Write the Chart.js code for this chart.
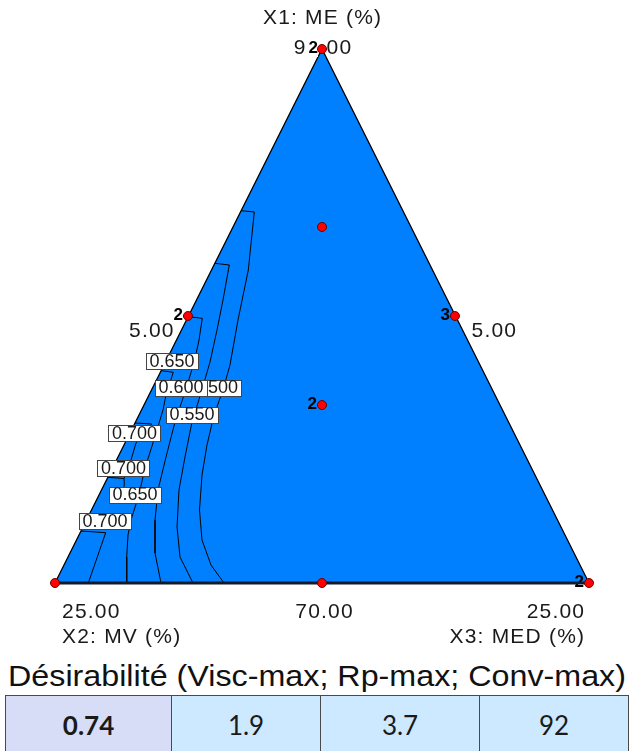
<!DOCTYPE html>
<html>
<head>
<meta charset="utf-8">
<script src="https://cdn.jsdelivr.net/npm/chart.js@4.4.0/dist/chart.umd.min.js"></script>
<style>
  html, body { margin: 0; padding: 0; background: #fff; }
  body { width: 629px; height: 751px; position: relative; overflow: hidden; font-family: "Liberation Sans", Arial, sans-serif; }
  #plot { position: absolute; left: 0; top: 0; }
  #title { position: absolute; left: 8px; top: 659px; height: 34px; line-height: 34px; font-size: 30px; color: #111; white-space: nowrap; }
  #title span { display: inline-block; transform-origin: 0 50%; }
  table { position: absolute; left: 5px; top: 695px; border-collapse: collapse; font-family: Lato, "Open Sans", sans-serif; font-size: 26px; color: #1a1a1a; }
  td { border: 1px solid #4a4a4a; height: 58px; text-align: center; vertical-align: middle; padding: 0; background: #cde9ff; }
  td.first { background: #d7ddf6; font-weight: bold; }
</style>
</head>
<body>
<canvas id="plot" width="629" height="655"></canvas>
<div id="title"><span>Désirabilité (Visc-max; Rp-max; Conv-max)</span></div>
<table>
  <tr>
    <td class="first" style="width:167px">0.74</td>
    <td style="width:150px">1.9</td>
    <td style="width:160px">3.7</td>
    <td style="width:150px">92</td>
  </tr>
</table>
<script>
// plot frame: base runs 0..100 left to right, height 0..100 bottom to apex
const triX = [0, 50, 100];
const triY = [0, 100, 0];

const componentNames = ['X1: ME (%)', 'X2: MV (%)', 'X3: MED (%)'];
const vertexValues = ['90.00', '25.00', '25.00'];
const edgeValues = ['5.00', '70.00', '5.00'];

// design points and their replicate counts
const pointX = [50, 50, 24.9, 74.9, 50, 0, 50, 100];
const pointY = [100, 66.67, 50, 50, 33.33, 0, 0, 0];
const pointReps = ['2', '', '2', '3', '2', '', '', '2'];

// desirability contours
const line500X = [34.83, 37.32, 36.20, 34.27, 32.77, 31.46, 29.78, 28.46, 27.53, 27.06, 27.53, 29.21, 31.65];
const line500Y = [69.72, 69.48, 58.61, 49.25, 40.82, 36.14, 31.46, 25.84, 20.22, 13.67, 8.05, 3.37, 0];
const line550X = [29.94, 32.64, 31.46, 30.34, 29.03, 27.34, 25.66, 24.34, 23.22, 22.85, 23.41, 25.84];
const line550Y = [59.87, 59.55, 53.00, 47.38, 41.39, 35.58, 30.15, 23.60, 17.42, 10.49, 4.87, 0];
const line600X = [24.94, 27.58, 26.97, 26.03, 24.16, 22.47, 20.79, 19.29, 18.73, 18.73, 19.85];
const line600Y = [49.87, 49.57, 45.51, 41.20, 35.21, 30.15, 23.60, 17.42, 11.80, 5.62, 0];
const line650X = [19.89, 22.15, 20.79, 20.22, 19.10, 18.11, 17.04, 16.48, 16.05, 15.30, 14.23, 13.67, 13.43, 13.43];
const line650Y = [39.76, 39.46, 35.21, 32.40, 28.65, 25.47, 22.10, 19.85, 17.98, 15.17, 11.80, 8.99, 4.87, 0];
const line700aX = [14.98, 18.11, 15.17, 14.23, 12.92, 9.90];
const line700aY = [29.96, 29.78, 26.22, 23.03, 19.57, 19.79];
const line700bX = [12.92, 12.98, 12.36];
const line700bY = [19.57, 18.35, 16.10];
const line700cX = [4.87, 9.49, 6.24];
const line700cY = [9.74, 9.42, 0];

const labelText = ['0.650', '0.500', '0.600', '0.550', '0.700', '0.700', '0.650', '0.700'];
const labelX = [21.91, 30.06, 23.60, 25.66, 14.89, 12.83, 14.98, 9.36];
const labelY = [41.57, 36.61, 36.61, 31.55, 28.09, 21.54, 16.57, 11.61];

const pts = (xs, ys) => xs.map((x, i) => ({ x, y: ys[i] }));

function contour(xs, ys) {
  return { data: pts(xs, ys), borderColor: '#000', borderWidth: 1, pointRadius: 0, tension: 0, fill: false, clip: false, order: 5 };
}

function spacedText(ctx, text, x, y, align, spacing) {
  ctx.letterSpacing = spacing + 'px';
  let w = ctx.measureText(text).width - spacing;
  let sx = align === 'center' ? x - w / 2 : align === 'right' ? x - w : x;
  ctx.textAlign = 'left';
  ctx.fillText(text, sx, y);
  ctx.letterSpacing = '0px';
}

const ternaryLabels = {
  id: 'ternaryLabels',
  afterDatasetDraw(chart, args) {
    if (args.index !== 0) return;
    const ctx = chart.ctx, xs = chart.scales.x, ys = chart.scales.y;
    const T = { x: xs.getPixelForValue(50), y: ys.getPixelForValue(100) };
    const L = { x: xs.getPixelForValue(0), y: ys.getPixelForValue(0) };
    const R = { x: xs.getPixelForValue(100), y: ys.getPixelForValue(0) };
    const M = { x: xs.getPixelForValue(50), y: ys.getPixelForValue(0) };
    const EL = { x: xs.getPixelForValue(25), y: ys.getPixelForValue(50) };
    const ER = { x: xs.getPixelForValue(75), y: ys.getPixelForValue(50) };
    ctx.save();
    ctx.fillStyle = '#1a1a1a';
    ctx.font = '21px "Liberation Sans", Arial, sans-serif';
    ctx.textBaseline = 'middle';
    spacedText(ctx, componentNames[0], T.x, T.y - 31, 'center', 1.2);
    spacedText(ctx, vertexValues[0], T.x + 0.5, T.y - 1, 'center', 1.2);
    spacedText(ctx, vertexValues[1], L.x + 7, L.y + 29, 'left', 1.2);
    spacedText(ctx, componentNames[1], L.x + 7, L.y + 54, 'left', 1.2);
    spacedText(ctx, vertexValues[2], R.x - 5, R.y + 29, 'right', 1.2);
    spacedText(ctx, componentNames[2], R.x - 5, R.y + 54, 'right', 1.2);
    spacedText(ctx, edgeValues[1], M.x + 2, M.y + 29, 'center', 1.2);
    spacedText(ctx, edgeValues[0], EL.x - 15, EL.y + 15, 'right', 1.2);
    spacedText(ctx, edgeValues[2], ER.x + 16, ER.y + 15, 'left', 1.2);

    ctx.font = 'bold 17px "Liberation Sans", Arial, sans-serif';
    ctx.textAlign = 'right';
    pointReps.forEach((r, i) => {
      if (!r) return;
      const px = xs.getPixelForValue(pointX[i]), py = ys.getPixelForValue(pointY[i]);
      if (pointY[i] >= 100) {
        ctx.fillStyle = '#fff';
        ctx.fillRect(px - 17, py - 9, 13, 17);
        ctx.fillStyle = '#000';
        ctx.fillText(r, px - 4, py - 1);
        return;
      }
      ctx.fillStyle = '#000';
      ctx.fillText(r, px - 5, py - 1);
    });
    ctx.restore();
  },
  afterDatasetsDraw(chart) {
    const ctx = chart.ctx, xs = chart.scales.x, ys = chart.scales.y;
    ctx.save();
    ctx.font = '18px "Liberation Sans", Arial, sans-serif';
    ctx.textBaseline = 'middle';
    ctx.textAlign = 'center';
    labelText.forEach((t, i) => {
      const cx = xs.getPixelForValue(labelX[i]), cy = ys.getPixelForValue(labelY[i]);
      const w = ctx.measureText(t).width + 7, h = 16;
      ctx.fillStyle = '#fff';
      ctx.fillRect(Math.round(cx - w / 2) + 0.5, Math.round(cy - h / 2) + 0.5, Math.round(w), h);
      ctx.strokeStyle = '#444';
      ctx.lineWidth = 1;
      ctx.strokeRect(Math.round(cx - w / 2) + 0.5, Math.round(cy - h / 2) + 0.5, Math.round(w), h);
      ctx.fillStyle = '#1a1a1a';
      ctx.fillText(t, cx, cy + 1);
    });
    ctx.restore();
  }
};

new Chart(document.getElementById('plot'), {
  type: 'line',
  data: {
    datasets: [
      { data: pts(triX, triY), fill: 'origin', backgroundColor: '#0080ff', borderColor: '#000', borderWidth: 1.3, pointRadius: 0, tension: 0, clip: false, order: 10 },
      contour(line500X, line500Y),
      contour(line550X, line550Y),
      contour(line600X, line600Y),
      contour(line650X, line650Y),
      contour(line700aX, line700aY),
      contour(line700bX, line700bY),
      contour(line700cX, line700cY),
      { data: pts([0, 100], [0, 0]), borderColor: '#0d1b2e', borderWidth: 3, pointRadius: 0, fill: false, clip: false, order: 4 },
      { data: pts(pointX, pointY), showLine: false, pointRadius: 4.5, pointHoverRadius: 4.5, pointBackgroundColor: '#ff0000', pointBorderColor: '#6a0000', pointBorderWidth: 1, backgroundColor: '#ff0000', borderColor: '#6a0000', clip: false, order: 0 }
    ]
  },
  options: {
    responsive: false,
    animation: false,
    layout: { padding: { left: 55, right: 40, top: 49, bottom: 72 } },
    scales: {
      x: { type: 'linear', min: 0, max: 100, display: false },
      y: { type: 'linear', min: 0, max: 100, display: false }
    },
    plugins: { legend: { display: false }, tooltip: { enabled: false }, filler: { propagate: false } },
    events: []
  },
  plugins: [ternaryLabels]
});

const titleSpan = document.querySelector('#title span');
const titleW = titleSpan.getBoundingClientRect().width;
titleSpan.style.transform = 'scaleX(' + (618 / titleW) + ')';
</script>
</body>
</html>
